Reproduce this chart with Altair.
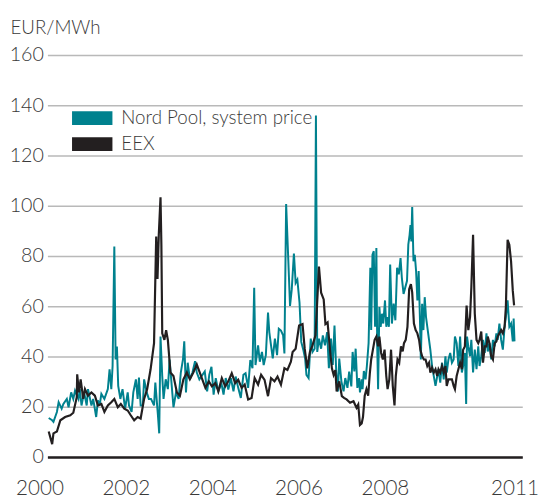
import altair as alt
import pandas as pd

# Nord Pool system price (EUR/MWh)
np_year = [2000.03, 2000.11, 2000.14, 2000.22, 2000.26, 2000.33, 2000.37, 2000.45, 2000.49, 2000.55,
           2000.60, 2000.64, 2000.72, 2000.75, 2000.79, 2000.85, 2000.91, 2000.94, 2001.02, 2001.06,
           2001.13, 2001.17, 2001.21, 2001.25, 2001.32, 2001.40, 2001.44, 2001.48, 2001.51, 2001.55,
           2001.58, 2001.61, 2001.64, 2001.69, 2001.74, 2001.80, 2001.86, 2001.89, 2001.95, 2001.99,
           2002.05, 2002.09, 2002.12, 2002.16, 2002.21, 2002.24, 2002.30, 2002.35, 2002.40, 2002.47,
           2002.50, 2002.56, 2002.59, 2002.62, 2002.66, 2002.69, 2002.74, 2002.79, 2002.83, 2002.88,
           2002.92, 2002.98, 2003.04, 2003.09, 2003.14, 2003.17, 2003.21, 2003.25, 2003.30, 2003.36,
           2003.42, 2003.46, 2003.52,
           2003.645, 2003.70, 2003.75, 2003.80, 2003.85, 2003.90, 2003.96, 2004.03, 2004.08, 2004.13,
           2004.19, 2004.25, 2004.31, 2004.36, 2004.42, 2004.48, 2004.54, 2004.59, 2004.65, 2004.70,
           2004.75, 2004.79, 2004.82, 2004.88, 2004.92, 2004.97, 2005.01, 2005.06, 2005.11, 2005.14,
           2005.18, 2005.22, 2005.27, 2005.32, 2005.36, 2005.41, 2005.46, 2005.49, 2005.53, 2005.58,
           2005.62, 2005.66, 2005.71, 2005.75, 2005.79, 2005.84, 2005.88, 2005.93, 2005.97, 2006.00,
           2006.05, 2006.10, 2006.14, 2006.19, 2006.22, 2006.25, 2006.29, 2006.34, 2006.38, 2006.43,
           2006.48, 2006.52, 2006.57, 2006.61, 2006.65, 2006.69, 2006.73, 2006.76, 2006.81, 2006.86,
           2006.90, 2006.95, 2006.99, 2007.04, 2007.07, 2007.11, 2007.14, 2007.18, 2007.22,
           2007.24, 2007.28, 2007.30, 2007.33, 2007.37, 2007.40, 2007.44, 2007.48, 2007.50, 2007.53,
           2007.56, 2007.59, 2007.62, 2007.64, 2007.66, 2007.69, 2007.72, 2007.75, 2007.78, 2007.82,
           2007.85, 2007.88, 2007.91, 2007.94, 2007.98, 2008.02, 2008.06, 2008.10, 2008.14, 2008.18,
           2008.21, 2008.25, 2008.29, 2008.33, 2008.36, 2008.39, 2008.41, 2008.43, 2008.45, 2008.48,
           2008.51, 2008.54, 2008.57, 2008.60, 2008.63, 2008.65, 2008.68, 2008.71, 2008.74, 2008.77,
           2008.80, 2008.84, 2008.87, 2008.91, 2008.95, 2008.99, 2009.03, 2009.06, 2009.10, 2009.14,
           2009.18, 2009.22, 2009.25, 2009.29, 2009.33, 2009.37, 2009.41, 2009.44, 2009.48, 2009.52,
           2009.56, 2009.60, 2009.63, 2009.67, 2009.70, 2009.72, 2009.75, 2009.79, 2009.82, 2009.86,
           2009.90, 2009.94, 2009.98, 2010.01, 2010.05, 2010.09, 2010.13, 2010.17, 2010.20, 2010.24,
           2010.28, 2010.32, 2010.36, 2010.40, 2010.43, 2010.47, 2010.51, 2010.55, 2010.59, 2010.62,
           2010.66, 2010.70, 2010.74, 2010.78, 2010.80, 2010.82]
np_price = [15.5, 14.6, 14.0, 17.9, 21.8, 19.2, 21.1, 23.1, 19.8, 25.7,
            23.1, 26.4, 23.1, 27.0, 20.5, 25.7, 20.5, 27.0, 20.5, 23.1,
            15.9, 22.5, 20.5, 25.1, 23.1, 27.0, 34.9, 27.0, 36.2, 83.8,
            38.8, 44.0, 28.3, 23.1, 27.0, 19.2, 25.7, 20.5, 17.9, 25.7,
            30.9, 23.1, 31.6, 20.5, 20.5, 30.9, 25.7, 23.1, 23.1, 20.5,
            29.6, 16.6, 9.4, 47.9, 32.2, 23.1, 30.9, 27.0, 38.8, 28.3,
            19.8, 25.7, 23.1, 33.6, 38.8, 46.0, 25.7, 37.5, 30.9, 33.6,
            38.1, 33.6, 30.9,
            34.0, 26.1, 32.7, 35.9, 24.8, 31.4, 26.1, 29.4, 24.8, 31.4,
            26.8, 31.4, 26.1, 32.0, 27.5, 23.5, 32.7, 33.3, 27.5, 38.6,
            35.3, 67.3, 36.6, 44.4, 37.9, 41.8, 36.6, 40.5, 57.5, 49.7,
            44.4, 39.2, 47.1, 40.5, 51.0, 50.3, 48.4, 41.2, 100.7, 78.4,
            60.1, 66.7, 81.0, 69.3, 70.6, 61.4, 45.8, 42.5, 39.2, 32.7,
            31.4, 47.1, 41.8, 43.1, 135.9, 41.8, 47.1, 43.1, 48.4, 44.4,
            49.7, 35.3, 47.1, 36.6, 52.3, 34.0, 26.1, 39.2, 30.1, 26.1,
            31.4, 27.5, 34.0, 28.1, 41.8, 34.0, 43.1, 27.5, 31.4,
            25.7, 30.9, 27.0, 34.2, 30.9, 36.2, 45.3, 75.3, 50.5, 80.5,
            81.9, 51.8, 83.2, 44.0, 27.0, 59.7, 51.8, 57.0, 53.1, 62.3,
            51.8, 55.7, 51.8, 76.6, 53.1, 61.0, 54.4, 75.3, 72.7, 79.2,
            71.4, 64.9, 67.5, 70.1, 84.5, 88.4, 92.3, 85.8, 99.5, 77.9,
            80.5, 74.0, 62.3, 74.0, 54.4, 38.8, 61.0, 50.5, 63.6, 55.7,
            51.8, 46.6, 42.7, 36.2, 32.2, 28.3, 32.2, 34.9, 29.6, 37.5,
            30.9, 40.1, 33.6, 38.8, 41.4, 37.5, 38.8, 47.9, 45.3, 36.2,
            47.9, 33.6, 36.2, 41.4, 21.1, 47.9, 44.0, 40.1, 46.6, 33.6,
            42.7, 34.9, 44.0, 36.2, 40.1, 46.6, 41.4, 49.2, 42.0, 45.3,
            38.8, 46.6, 44.0, 49.2, 46.6, 53.1, 46.6, 42.7, 51.8, 55.7,
            62.3, 51.8, 53.1, 46.0, 55.1, 46.0]

# EEX (EUR/MWh)
eex_year = [2000.03, 2000.11, 2000.14, 2000.22, 2000.30, 2000.41, 2000.53, 2000.60, 2000.68, 2000.69,
            2000.73, 2000.77, 2000.83, 2000.87, 2000.94, 2001.02, 2001.10, 2001.17, 2001.25, 2001.32,
            2001.40, 2001.48, 2001.55, 2001.63, 2001.70, 2001.78, 2001.86, 2001.93, 2002.01, 2002.09,
            2002.16, 2002.24, 2002.31, 2002.39, 2002.47, 2002.52, 2002.55, 2002.58, 2002.62, 2002.64,
            2002.66, 2002.71, 2002.75, 2002.79, 2002.85, 2002.92, 2003.00, 2003.07, 2003.15, 2003.23,
            2003.30, 2003.38, 2003.46, 2003.53,
            2003.66, 2003.74, 2003.81, 2003.89, 2003.96, 2004.04, 2004.12, 2004.19, 2004.27, 2004.35,
            2004.42, 2004.50, 2004.57, 2004.65, 2004.73, 2004.80, 2004.88, 2004.95, 2005.03, 2005.11,
            2005.18, 2005.26, 2005.33, 2005.41, 2005.49, 2005.56, 2005.64, 2005.68, 2005.75, 2005.83,
            2005.91, 2005.96, 2006.02, 2006.08, 2006.14, 2006.21, 2006.26, 2006.29, 2006.34, 2006.40,
            2006.44, 2006.49, 2006.55, 2006.59, 2006.63, 2006.67, 2006.70, 2006.76, 2006.82, 2006.87,
            2006.93, 2007.01, 2007.09, 2007.16, 2007.20,
            2007.24, 2007.28, 2007.31, 2007.35, 2007.39, 2007.43, 2007.47, 2007.50, 2007.54, 2007.58,
            2007.62, 2007.66, 2007.69, 2007.73, 2007.77, 2007.81, 2007.85, 2007.88, 2007.92, 2007.96,
            2008.00, 2008.04, 2008.07, 2008.11, 2008.15, 2008.19, 2008.23, 2008.26, 2008.30, 2008.34,
            2008.38, 2008.42, 2008.45, 2008.49, 2008.53, 2008.57, 2008.61, 2008.64, 2008.68, 2008.72,
            2008.76, 2008.80, 2008.84, 2008.87, 2008.91, 2008.95, 2008.99, 2009.03, 2009.06, 2009.10,
            2009.14, 2009.18, 2009.22, 2009.25, 2009.29, 2009.33, 2009.37, 2009.41, 2009.44, 2009.48,
            2009.52, 2009.56, 2009.60, 2009.63, 2009.67, 2009.71, 2009.75, 2009.79, 2009.82, 2009.86,
            2009.90, 2009.94, 2009.98, 2010.01, 2010.05, 2010.09, 2010.13, 2010.17, 2010.20, 2010.24,
            2010.28, 2010.32, 2010.36, 2010.40, 2010.43, 2010.47, 2010.51, 2010.55, 2010.59, 2010.62,
            2010.66, 2010.70, 2010.74, 2010.78, 2010.81]
eex_price = [10.1, 5.1, 9.4, 10.1, 14.6, 15.9, 16.6, 17.6, 23.8, 32.9,
             25.7, 30.9, 23.1, 27.0, 24.4, 25.7, 24.4, 20.5, 21.1, 17.9,
             20.5, 21.8, 23.1, 19.8, 21.1, 19.2, 18.5, 16.6, 14.6, 15.9,
             15.3, 23.1, 27.0, 34.9, 45.3, 87.7, 70.8, 88.4, 103.4, 84.5,
             49.2, 46.6, 50.5, 46.6, 33.6, 32.2, 25.7, 24.4, 30.9, 33.6,
             30.9, 33.6, 36.8, 33.6,
             27.5, 30.1, 28.1, 29.4, 26.1, 31.4, 28.1, 30.1, 33.3, 29.4,
             30.7, 27.5, 28.8, 22.9, 23.5, 31.4, 28.8, 32.7, 30.7, 24.2,
             31.4, 30.1, 32.0, 28.8, 35.3, 34.6, 37.9, 41.8, 43.1, 52.3,
             52.9, 43.1, 35.3, 41.8, 44.4, 48.4, 65.4, 75.8, 65.4, 62.7,
             52.9, 53.6, 41.8, 35.3, 32.7, 34.6, 26.1, 30.1, 24.2, 23.5,
             22.9, 21.6, 22.2, 19.6, 20.9,
             12.7, 13.3, 15.9, 24.4, 27.0, 24.4, 33.6, 38.8, 42.7, 46.6,
             47.9, 44.0, 47.9, 41.4, 38.8, 42.7, 32.2, 27.0, 30.9, 42.7,
             28.3, 20.5, 32.2, 38.8, 37.5, 44.0, 42.0, 45.3, 46.6, 51.8,
             66.8, 68.8, 65.5, 53.1, 50.5, 49.2, 46.6, 42.7, 40.1, 38.8,
             38.8, 36.2, 37.5, 33.6, 35.5, 33.6, 34.9, 32.2, 34.9, 33.6,
             36.2, 33.6, 36.2, 28.3, 30.9, 30.9, 30.9, 28.3, 27.0, 32.2,
             34.9, 37.5, 34.9, 42.7, 44.0, 60.3, 50.5, 55.7, 67.5, 88.4,
             57.0, 46.6, 45.3, 46.6, 49.9, 37.5, 44.0, 44.0, 47.9, 45.3,
             40.1, 38.8, 45.3, 46.0, 47.9, 49.2, 50.5, 49.2, 51.8, 59.7,
             86.4, 84.5, 77.9, 66.2, 60.3]

series_names = ["Nord Pool, system price", "EEX"]
series_colors = ["#00818e", "#231f20"]
x_ticks = [2000, 2002, 2004, 2006, 2008, 2011]
y_ticks = [0, 20, 40, 60, 80, 100, 120, 140, 160]

FONT = "Lato"
WEIGHT = 300
TEXT = "#3a3a3a"

df_np = pd.DataFrame({"year": np_year, "price": np_price, "series": series_names[0]})
df_eex = pd.DataFrame({"year": eex_year, "price": eex_price, "series": series_names[1]})

x_enc = alt.X("year:Q",
              scale=alt.Scale(domain=[2000, 2011], nice=False, zero=False),
              axis=alt.Axis(values=x_ticks, format="d", grid=False, ticks=False,
                            domain=True, domainColor="#231f20", domainWidth=2.5,
                            labelFont=FONT, labelFontSize=21, labelFontWeight=WEIGHT,
                            labelColor=TEXT, labelPadding=21, labelOffset=-8,
                            labelFlush=False, labelOverlap=False, title=None))
y_enc = alt.Y("price:Q",
              scale=alt.Scale(domain=[0, 160], nice=False),
              axis=alt.Axis(values=y_ticks, grid=True, gridColor="#b9b9b9", gridWidth=1.5,
                            domain=False, ticks=False, labelFont=FONT, labelFontSize=20,
                            labelFontWeight=WEIGHT, labelColor=TEXT, labelPadding=4,
                            title="EUR/MWh", titleAngle=0, titleX=-38, titleY=-22,
                            titleAlign="left", titleBaseline="alphabetic", titleFont=FONT,
                            titleFontSize=19, titleFontWeight=WEIGHT, titleColor=TEXT))
color_enc = alt.Color("series:N",
                      scale=alt.Scale(domain=series_names, range=series_colors),
                      legend=alt.Legend(orient="none", legendX=18, legendY=54, title=None,
                                        symbolType="M-1,0L7.2,0", symbolSize=100,
                                        symbolStrokeWidth=14, symbolOpacity=1,
                                        clipHeight=20,
                                        labelFont=FONT, labelFontSize=19,
                                        labelFontWeight=WEIGHT, labelColor=TEXT,
                                        labelOffset=33, labelLimit=0, rowPadding=6.5,
                                        padding=0))

layer_np = alt.Chart(df_np).mark_line(strokeWidth=2).encode(x=x_enc, y=y_enc, color=color_enc)
layer_eex = alt.Chart(df_eex).mark_line(strokeWidth=2.2).encode(x=x_enc, y=y_enc, color=color_enc)

chart = alt.layer(layer_np, layer_eex).properties(
    width=482, height=408,
    autosize=alt.AutoSizeParams(type="none"),
    padding={"left": 40, "top": 44, "right": 19, "bottom": 40},
).configure_view(stroke=None)

chart.save("out.html", embed_options={"renderer": "svg", "actions": False})
